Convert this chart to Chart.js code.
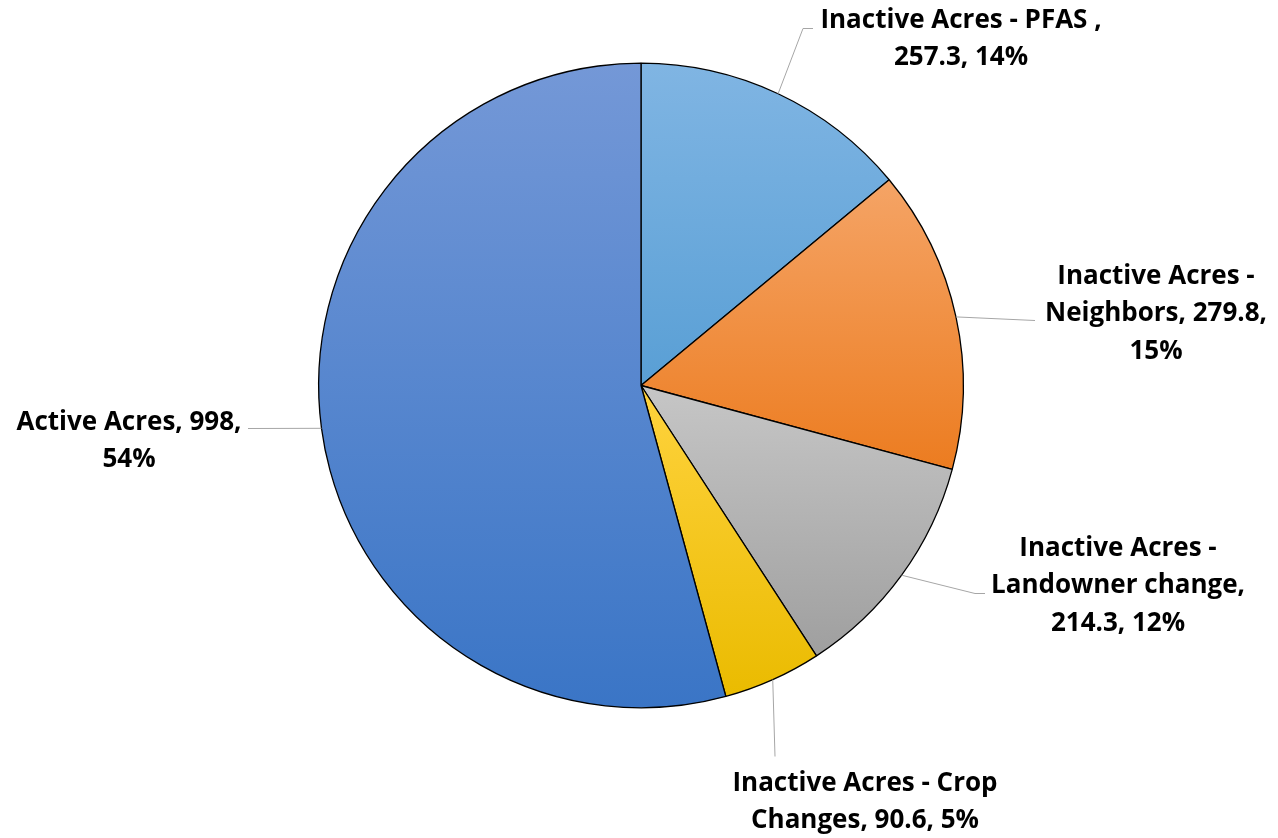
<!DOCTYPE html>
<html>
<head>
<meta charset="utf-8">
<script src="https://cdn.jsdelivr.net/npm/chart.js@4.4.1/dist/chart.umd.min.js"></script>
<style>
  html, body { margin: 0; padding: 0; background: #fff; }
  #wrap { position: relative; width: 1278px; height: 838px; }
</style>
</head>
<body>
<div id="wrap"><canvas id="c" width="1278" height="838"></canvas></div>
<script>
// ---- data ----
const categories = [
  "Inactive Acres - PFAS ",
  "Inactive Acres - Neighbors",
  "Inactive Acres - Landowner change",
  "Inactive Acres - Crop Changes",
  "Active Acres"
];
const acres = [257.3, 279.8, 214.3, 90.6, 998];

// label line templates ({v} value, {p} percent)
const labelLines = [
  ["Inactive Acres - PFAS ,", "{v}, {p}"],
  ["Inactive Acres -", "Neighbors, {v},", "{p}"],
  ["Inactive Acres -", "Landowner change,", "{v}, {p}"],
  ["Inactive Acres - Crop", "Changes, {v}, {p}"],
  ["Active Acres, {v},", "{p}"]
];

// ---- styles / layout ----
const gradTop    = ["#80b5e3", "#f5a466", "#c6c6c6", "#ffd33e", "#7498d7"];
const gradBottom = ["#599fd5", "#ec7c20", "#9f9f9f", "#eabb00", "#3a75c6"];

// label layout relative to pie centre: text centre x, first baseline y, leader end points
const labelLayout = [
  { tx: 320, by: -358, lead: [[162, -357], [172, -357]] },
  { tx: 515, by: -102, lead: [[394, -65]] },
  { tx: 477, by: 170,  lead: [[334, 208], [344, 208]] },
  { tx: 224, by: 405,  lead: [[134, 371]] },
  { tx: -512, by: 44,  lead: [[-393, 43]] }
];
const lineGap = 37.5;
const labelFont = "bold 26px 'Open Sans'";

const total = acres.reduce((a, b) => a + b, 0);

function sliceGradient(context) {
  const chart = context.chart;
  const i = context.dataIndex;
  const area = chart.chartArea;
  if (!area) return gradBottom[i];
  const cx = (area.left + area.right) / 2;
  const cy = (area.top + area.bottom) / 2;
  const r = Math.min(area.right - area.left, area.bottom - area.top) / 2;
  let cum = 0;
  for (let k = 0; k < i; k++) cum += acres[k];
  const a0 = -Math.PI / 2 + cum / total * 2 * Math.PI;
  const a1 = a0 + acres[i] / total * 2 * Math.PI;
  const ys = [cy, cy + r * Math.sin(a0), cy + r * Math.sin(a1)];
  [-Math.PI / 2, Math.PI / 2, 3 * Math.PI / 2].forEach(a => {
    if (a >= a0 && a <= a1) ys.push(cy + r * Math.sin(a));
  });
  const y0 = Math.min(...ys), y1 = Math.max(...ys);
  const g = chart.ctx.createLinearGradient(0, y0, 0, y1);
  g.addColorStop(0, gradTop[i]);
  g.addColorStop(1, gradBottom[i]);
  return g;
}

const labelPlugin = {
  id: 'pieLabels',
  afterDatasetsDraw(chart) {
    const ctx = chart.ctx;
    const meta = chart.getDatasetMeta(0);
    ctx.save();
    meta.data.forEach((arc, i) => {
      const mid = (arc.startAngle + arc.endAngle) / 2;
      const cx = arc.x, cy = arc.y, r = arc.outerRadius;
      const lay = labelLayout[i];
      // leader line
      ctx.beginPath();
      ctx.strokeStyle = "#a6a6a6";
      ctx.lineWidth = 1;
      ctx.moveTo(cx + r * Math.cos(mid), cy + r * Math.sin(mid));
      lay.lead.forEach(p => ctx.lineTo(cx + p[0], cy + p[1]));
      ctx.stroke();
      // text
      const pct = Math.round(acres[i] / total * 100) + "%";
      ctx.fillStyle = "#000";
      ctx.font = labelFont;
      ctx.textAlign = "center";
      ctx.textBaseline = "alphabetic";
      labelLines[i].forEach((t, j) => {
        const s = t.replace("{v}", String(acres[i])).replace("{p}", pct);
        ctx.fillText(s, cx + lay.tx, cy + lay.by + j * lineGap);
      });
    });
    ctx.restore();
  }
};

new Chart(document.getElementById('c'), {
  type: 'pie',
  data: {
    labels: categories,
    datasets: [{
      data: acres,
      backgroundColor: sliceGradient,
      borderColor: "#000000",
      borderWidth: 1.3,
      hoverOffset: 0
    }]
  },
  options: {
    responsive: false,
    animation: false,
    layout: { padding: { top: 62, bottom: 129, left: 318, right: 314 } },
    plugins: {
      legend: { display: false },
      tooltip: { enabled: false }
    }
  },
  plugins: [labelPlugin]
});
</script>
</body>
</html>
